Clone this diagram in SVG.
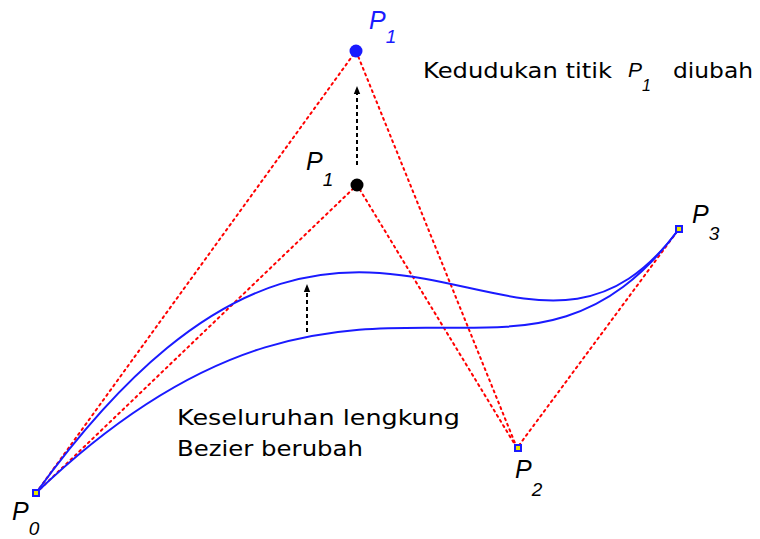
<svg xmlns="http://www.w3.org/2000/svg" width="760" height="539" viewBox="0 0 760 539">
<defs>
<style>
.ctrl{fill:none;stroke:#ff0000;stroke-width:2;stroke-dasharray:2 4;stroke-linecap:round}
.curve{fill:none;stroke:#1a1aff;stroke-width:2}
.move{fill:none;stroke:#000;stroke-width:2;stroke-dasharray:4 3}
.pt{fill:#e8e800;stroke:#1a1aff;stroke-width:2}
.lbl{font-family:"Liberation Sans",Arial,sans-serif;font-style:italic;font-size:25px;fill:#000}
.sub{font-size:19px}
.txt{font-family:"DejaVu Sans","Liberation Sans",Arial,sans-serif;font-size:21px;fill:#000}
</style>
<marker id="ah" viewBox="0 0 10 10" refX="5" refY="5" markerWidth="4" markerHeight="4" orient="auto"><path d="M0,1 L10,5 L0,9 z" fill="#000"/></marker>
</defs>
<rect width="760" height="539" fill="#fff"/>
<g id="connectors">
<path class="ctrl" d="M36,493 L356,51 L517,448"/>
<path class="ctrl" d="M36,493 L357,185 L517,448 L679,229"/>
<path class="curve" d="M36,493 C357,185 517,448 679,229"/>
<path class="curve" d="M36,493 C356,51 517,448 679,229"/>
<path class="move" d="M357,165 L357,90" marker-end="url(#ah)"/>
<path class="move" d="M307,332 L307,288" marker-end="url(#ah)"/>
</g>
<g id="P1new">
<circle cx="356" cy="51" r="6.5" fill="#1a1aff"/>
<text class="lbl" x="369" y="29" style="fill:#1a1aff">P<tspan class="sub" dy="14">1</tspan></text>
</g>
<g id="P1old">
<circle cx="357" cy="185" r="6.5" fill="#000"/>
<text class="lbl" x="306" y="170">P<tspan class="sub" dy="16">1</tspan></text>
</g>
<g id="P0">
<rect class="pt" x="33" y="490" width="6" height="6"/>
<text class="lbl" x="12" y="520">P<tspan class="sub" dy="15">0</tspan></text>
</g>
<g id="P2">
<rect class="pt" x="515" y="445" width="6" height="6"/>
<text class="lbl" x="515" y="478">P<tspan class="sub" dy="18">2</tspan></text>
</g>
<g id="P3">
<rect class="pt" x="676" y="226" width="6" height="6"/>
<text class="lbl" x="692" y="223">P<tspan class="sub" dy="17">3</tspan></text>
</g>
<g id="label-top">
<text class="txt" x="423" y="78" textLength="189" lengthAdjust="spacingAndGlyphs">Kedudukan titik</text>
<text class="lbl" x="628" y="77" style="font-size:21px">P<tspan style="font-size:16px" dy="14">1</tspan></text>
<text class="txt" x="673" y="78" textLength="80" lengthAdjust="spacingAndGlyphs">diubah</text>
</g>
<g id="label-bottom">
<text class="txt" x="177" y="425" textLength="283" lengthAdjust="spacingAndGlyphs">Keseluruhan lengkung</text>
<text class="txt" x="177" y="456" textLength="186" lengthAdjust="spacingAndGlyphs">Bezier berubah</text>
</g>
</svg>
